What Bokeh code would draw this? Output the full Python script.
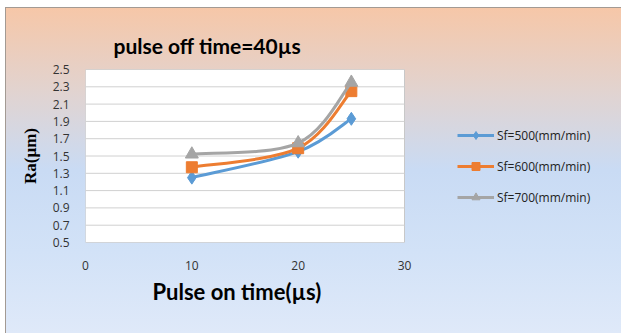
import numpy as np
from bokeh.plotting import figure
from bokeh.models import Legend, LegendItem, FixedTicker, Range1d, Title
from bokeh.embed import file_html
from bokeh.resources import INLINE

# ---- data ----
pulse_on = [10, 20, 25]
sf500 = [1.25, 1.55, 1.93]
sf600 = [1.37, 1.59, 2.25]
sf700 = [1.52, 1.65, 2.35]
series_labels = ["Sf=500(mm/min)", "Sf=600(mm/min)", "Sf=700(mm/min)"]
x_ticks = [0, 10, 20, 30]
y_ticks = [0.5, 0.7, 0.9, 1.1, 1.3, 1.5, 1.7, 1.9, 2.1, 2.3, 2.5]

colors = ["#5b9bd5", "#ed7d31", "#a5a5a5"]
markers = ["diamond", "square", "triangle"]
msizes = [13, 11, 13]

W, H = 616, 326
LEFT, BOTTOM, TOP = 79, 92, 61
PLOT_W = 319  # pixel width of the white plot area
frame_w = W - LEFT
x_end = x_ticks[-1] * frame_w / PLOT_W  # frame extends to the right to host the legend

p = figure(width=W, height=H, output_backend="svg", toolbar_location=None,
           x_range=Range1d(x_ticks[0], x_end), y_range=Range1d(y_ticks[0], y_ticks[-1]),
           min_border_left=LEFT, min_border_right=0, min_border_top=TOP, min_border_bottom=BOTTOM)
p.styles = {"margin-left": "5px", "margin-top": "7px",
            "border-left": "1px solid #a39a93", "border-top": "1px solid #a39a93",
            "background": "linear-gradient(to bottom, #f6c7a8 0%, #e2d3cf 25%, #c9dbf4 50%, #d2e2f7 75%, #dfe9f9 100%)"}
p.border_fill_alpha = 0
p.background_fill_alpha = 0
p.outline_line_color = None

# white plot area and horizontal gridlines (limited to the data extent)
p.quad(left=[x_ticks[0]], right=[x_ticks[-1]], bottom=[y_ticks[0]], top=[y_ticks[-1]],
       fill_color="white", line_color="#c8c8c8", line_width=1)
p.segment(x0=[x_ticks[0]] * len(y_ticks), x1=[x_ticks[-1]] * len(y_ticks),
          y0=y_ticks, y1=y_ticks, line_color="#d0d0d0", line_width=1)

p.title = Title(text="pulse off time=40µs", align="left", offset=28, standoff=24,
                text_font="Lato", text_font_size="21px", text_font_style="bold",
                text_color="black")

p.xaxis.ticker = FixedTicker(ticks=x_ticks)
p.yaxis.ticker = FixedTicker(ticks=y_ticks)
p.yaxis.formatter.use_scientific = False
for ax in (p.xaxis, p.yaxis):
    ax.axis_line_color = None
    ax.major_tick_line_color = None
    ax.minor_tick_line_color = None
    ax.major_label_text_font = "Open Sans"
    ax.major_label_text_font_size = "12px"
    ax.major_label_text_color = "#333333"
p.xaxis.major_label_standoff = 12
p.yaxis.major_label_standoff = 10
p.yaxis.axis_label = "Ra(µm)"
p.yaxis.axis_label_text_font = "Liberation Serif"
p.yaxis.axis_label_text_font_size = "17px"
p.yaxis.axis_label_text_font_style = "bold"
p.yaxis.axis_label_text_color = "black"
p.yaxis.axis_label_standoff = 10

p.add_layout(Title(text="Pulse on time(µs)", align="left", offset=67, standoff=6,
                   text_font="Lato", text_font_size="22px", text_font_style="bold",
                   text_color="black"), "below")

p.xgrid.grid_line_color = None
p.ygrid.grid_line_color = None


def smooth_segments(xs, ys):
    xs = np.asarray(xs, float)
    ys = np.asarray(ys, float)
    n = len(xs)
    px = np.concatenate([[xs[0]], xs, [xs[-1]]])
    py = np.concatenate([[ys[0]], ys, [ys[-1]]])
    x0, y0, x1, y1, cx0, cy0, cx1, cy1 = ([] for _ in range(8))
    for i in range(n - 1):
        a, b = i + 1, i + 2
        x0.append(px[a]); y0.append(py[a]); x1.append(px[b]); y1.append(py[b])
        cx0.append(px[a] + (px[b] - px[a - 1]) / 6); cy0.append(py[a] + (py[b] - py[a - 1]) / 6)
        cx1.append(px[b] - (px[b + 1] - px[a]) / 6); cy1.append(py[b] - (py[b + 1] - py[a]) / 6)
    return dict(x0=x0, y0=y0, x1=x1, y1=y1, cx0=cx0, cy0=cy0, cx1=cx1, cy1=cy1)


items = []
for ys, c, m, s, lab in zip([sf500, sf600, sf700], colors, markers, msizes, series_labels):
    seg = smooth_segments(pulse_on, ys)
    r1 = p.bezier(line_color=c, line_width=3, **seg)
    r2 = p.scatter(pulse_on, ys, marker=m, size=s, fill_color=c, line_color=c)
    items.append(LegendItem(label=lab, renderers=[r1, r2]))

legend = Legend(items=items, location=(372, 35), background_fill_alpha=0,
                border_line_color=None, label_text_font="Open Sans",
                label_text_font_size="12px", label_text_color="#222222",
                glyph_width=37, glyph_height=20, spacing=11, padding=0, margin=0,
                label_standoff=3)
p.add_layout(legend, "center")

open("out.html", "w").write(file_html(p, INLINE))
